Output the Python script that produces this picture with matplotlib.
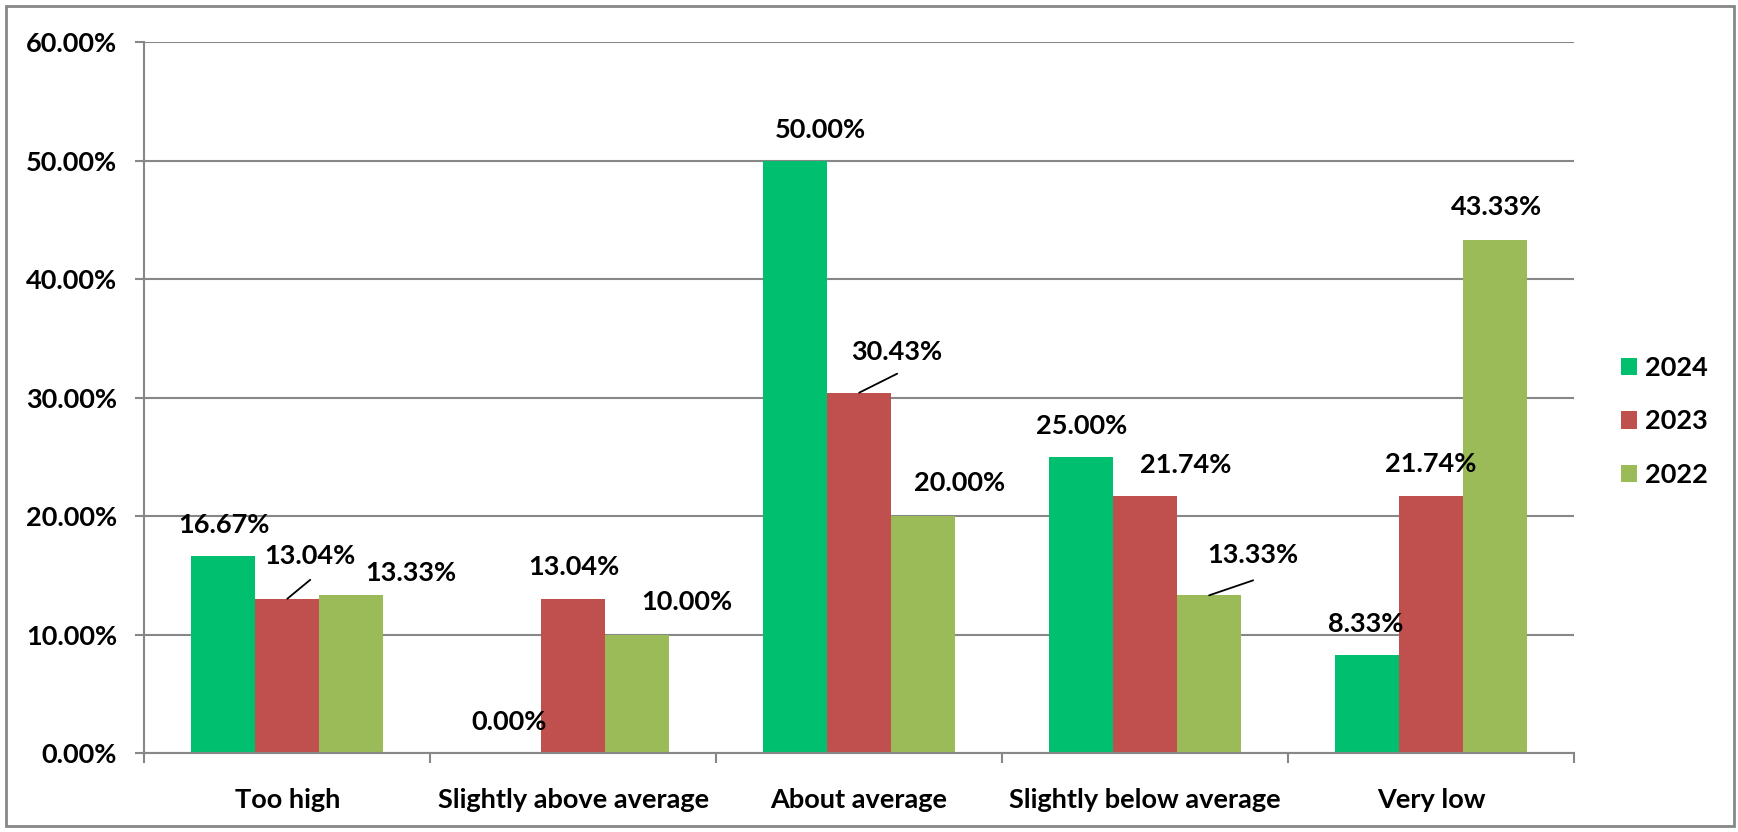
import matplotlib.pyplot as plt
from matplotlib.patches import Patch, Rectangle
from matplotlib.ticker import FixedLocator, FuncFormatter
import numpy as np

categories = ["Too high", "Slightly above average", "About average",
              "Slightly below average", "Very low"]
years = ["2024", "2023", "2022"]
values_2024 = [16.67, 0.00, 50.00, 25.00, 8.33]
values_2023 = [13.04, 13.04, 30.43, 21.74, 21.74]
values_2022 = [13.33, 10.00, 20.00, 13.33, 43.33]

colors = ["#00BF6F", "#C0504D", "#9BBB59"]
grid_c = "#878787"
FONT = ["Lato", "DejaVu Sans"]
FS = 19.5

# label offsets (px, x right / y down) relative to bar top centre, per series/category
label_off = {
    (0, 0): (1, -31), (1, 0): (23, -43), (2, 0): (60, -22),
    (0, 1): (0, -31), (1, 1): (1, -32), (2, 1): (50, -33),
    (0, 2): (25, -31), (1, 2): (38, -41), (2, 2): (36, -33),
    (0, 3): (1, -31), (1, 3): (41, -31), (2, 3): (44, -40),
    (0, 4): (-1, -31), (1, 4): (0, -32), (2, 4): (1, -33),
}
# leader lines: start offset (px) -> bar top
leaders = {(1, 0): (23, -19), (1, 2): (38, -19), (2, 3): (44, -15)}

plt.rcParams["font.family"] = FONT
plt.rcParams["font.weight"] = "bold"

W, H = 1738, 832
fig = plt.figure(figsize=(W / 100, H / 100), dpi=100)
ax = fig.add_axes([144.3 / W, 1 - 753.3 / H, 1429.7 / W, (753.3 - 42.3) / H])

series = [values_2024, values_2023, values_2022]
x = np.arange(len(categories))
bw = 0.224
pt = 0.72  # px -> pt at 100 dpi

for j, vals in enumerate(series):
    xs = x + (j - 1) * bw
    ax.bar(xs, vals, width=bw, color=colors[j], edgecolor="none", zorder=3)
    for i, (xi, v) in enumerate(zip(xs, vals)):
        dx, dy = label_off[(j, i)]
        ax.annotate(f"{v:.2f}%", xy=(xi, v), xytext=(dx * pt, -dy * pt),
                    textcoords="offset points", ha="center", va="center",
                    fontsize=FS, fontweight="bold", zorder=5)
        if (j, i) in leaders:
            lx, ly = leaders[(j, i)]
            ax.annotate("", xy=(xi, v), xytext=(lx * pt, -ly * pt),
                        textcoords="offset points",
                        arrowprops=dict(arrowstyle="-", color="black", lw=1.3,
                                        shrinkA=0, shrinkB=0), zorder=5)

ax.set_xlim(-0.5, len(categories) - 0.5)
ax.set_ylim(0, 60)
ax.set_yticks(np.arange(0, 61, 10))
ax.yaxis.set_major_formatter(FuncFormatter(lambda v, p: f"{v:.2f}%"))
ax.grid(axis="y", color=grid_c, lw=1.5, zorder=0)

ax.set_xticks(x)
ax.set_xticklabels(categories)
ax.xaxis.set_minor_locator(FixedLocator(np.arange(-0.5, len(categories), 1)))
ax.tick_params(axis="x", which="major", length=0, pad=25, labelsize=FS)
ax.tick_params(axis="x", which="minor", length=7, width=1.5, color=grid_c, direction="out")
ax.tick_params(axis="y", length=6.5, width=1.5, color=grid_c, pad=13, labelsize=FS)

for s in ["top", "right"]:
    ax.spines[s].set_visible(False)
for s in ["left", "bottom"]:
    ax.spines[s].set_color(grid_c)
    ax.spines[s].set_linewidth(1.5)
    ax.spines[s].set_zorder(4)

handles = [Patch(facecolor=c, edgecolor="none") for c in colors]
fig.legend(handles, years, loc="center left", bbox_to_anchor=(1621 / W, 1 - 421.5 / H),
           frameon=False, fontsize=FS, handlelength=0.6, handleheight=0.6,
           handletextpad=0.3, labelspacing=1.1, borderpad=0, borderaxespad=0)

fig.patches.append(Rectangle((6 / W, 6 / H), (1734 - 6) / W, (826 - 6) / H,
                             transform=fig.transFigure, fill=False,
                             edgecolor=grid_c, lw=2))

fig.savefig("out.png", dpi=100, facecolor="white")
